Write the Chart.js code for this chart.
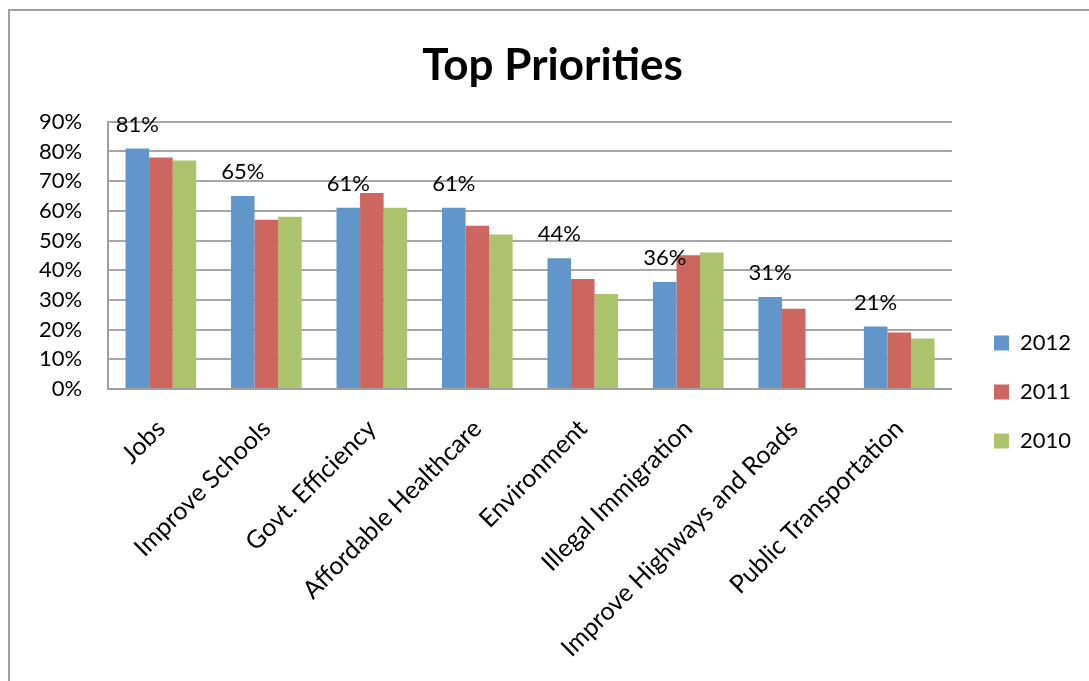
<!DOCTYPE html>
<html>
<head>
<meta charset="utf-8">
<script src="https://cdn.jsdelivr.net/npm/chart.js@4.4.1/dist/chart.umd.min.js"></script>
<style>
    html, body { margin: 0; padding: 0; background: #fff; overflow: hidden; }
    #wrap { position: relative; width: 1089px; height: 681px; }
    #frame {
        position: absolute; left: 8px; top: 9px; width: 1100px; height: 700px;
        border-left: 2px solid #a0a0a0; border-top: 2px solid #a0a0a0;
    }
    canvas { position: absolute; left: 0; top: 0; }
</style>
</head>
<body>
<div id="wrap">
    <div id="frame"></div>
    <canvas id="priorityChart" width="1089" height="681"></canvas>
</div>
<script>
const categories = [
    'Jobs', 'Improve Schools', 'Govt. Efficiency', 'Affordable Healthcare',
    'Environment', 'Illegal Immigration', 'Improve Highways and Roads', 'Public Transportation'
];
const values2012 = [81, 65, 61, 61, 44, 36, 31, 21];
const values2011 = [78, 57, 66, 55, 37, 45, 27, 19];
const values2010 = [77, 58, 61, 52, 32, 46, null, 17];
const yTicks = [0, 10, 20, 30, 40, 50, 60, 70, 80, 90];

const fontName = 'Lato, "Open Sans", sans-serif';

// labels above the 2012 bars only
const barLabels = {
    id: 'barLabels',
    afterDatasetsDraw(chart) {
        const ctx = chart.ctx;
        const meta = chart.getDatasetMeta(0);
        ctx.save();
        ctx.font = '22px ' + fontName;
        ctx.fillStyle = '#000';
        ctx.textAlign = 'center';
        ctx.textBaseline = 'middle';
        meta.data.forEach((bar, i) => {
            ctx.fillText(values2012[i] + '%', bar.x, bar.y - 24);
        });
        ctx.restore();
    }
};

// nudge legend and title to where the excel original has them
const boxShift = {
    id: 'boxShift',
    afterLayout(chart) {
        const lg = chart.legend;
        lg.left += 15;
        lg.right += 15;
        lg.top += 48;
        lg.bottom += 48;
        const tb = chart.titleBlock;
        tb.left += 13;
        tb.right += 13;
    }
};

const ctx = document.getElementById('priorityChart').getContext('2d');
new Chart(ctx, {
    type: 'bar',
    data: {
        labels: categories,
        datasets: [
            { label: '2012', data: values2012, backgroundColor: '#6096c9' },
            { label: '2011', data: values2011, backgroundColor: '#cd665e' },
            { label: '2010', data: values2010, backgroundColor: '#abc46b' }
        ]
    },
    options: {
        responsive: false,
        animation: false,
        layout: { padding: { left: 13, right: 23, top: 0, bottom: -7 } },
        datasets: {
            bar: { categoryPercentage: 0.67, barPercentage: 1.0 }
        },
        scales: {
            x: {
                grid: { display: false, drawTicks: false },
                border: { display: true, color: '#a0a0a0', width: 2 },
                ticks: {
                    color: '#000',
                    font: { family: fontName, size: 25 },
                    minRotation: 45,
                    maxRotation: 45,
                    padding: 25,
                    autoSkip: false
                }
            },
            y: {
                min: 0,
                max: 90,
                afterBuildTicks: (axis) => { axis.ticks = yTicks.map(v => ({ value: v })); },
                grid: { color: '#a6a6a6', lineWidth: 2, drawTicks: false },
                border: { display: true, color: '#a0a0a0', width: 2 },
                ticks: {
                    color: '#000',
                    font: { family: fontName, size: 22 },
                    padding: 26,
                    autoSkip: false,
                    callback: (v) => v + '%'
                }
            }
        },
        plugins: {
            title: {
                display: true,
                text: 'Top Priorities',
                color: '#000',
                font: { family: fontName, size: 44, weight: 'bold' },
                padding: { top: 39, bottom: 30 }
            },
            legend: {
                position: 'right',
                align: 'center',
                labels: {
                    color: '#000',
                    font: { family: fontName, size: 22 },
                    boxWidth: 15,
                    boxHeight: 15,
                    padding: 27
                }
            },
            tooltip: { enabled: false }
        }
    },
    plugins: [barLabels, boxShift]
});
</script>
</body>
</html>
